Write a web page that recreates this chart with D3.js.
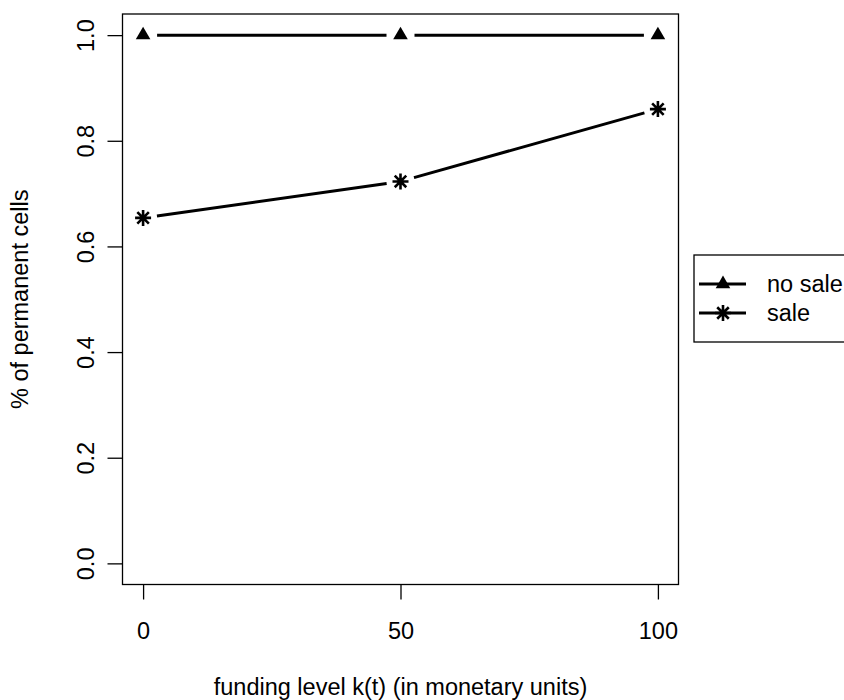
<!DOCTYPE html>
<html>
<head>
<meta charset="utf-8">
<script src="https://cdn.jsdelivr.net/npm/d3@7"></script>
<style>
  body { margin: 0; background: #fff; }
  svg { display: block; font-family: "Liberation Sans", Arial, Helvetica, sans-serif; }
</style>
</head>
<body>
<div id="chart"></div>
<script>
// 資料
const funding = [0, 50, 100];
const noSale = [1.0, 1.0, 1.0];
const sale = [0.654, 0.723, 0.860];
const yTicks = [0, 0.2, 0.4, 0.6, 0.8, 1.0];
const xTicks = [0, 50, 100];
const legendLabels = ["no sale", "sale"];

const width = 844, height = 700;
const box = { left: 122.5, right: 678.5, top: 14, bottom: 584.5 };
const fontSize = 23.5;

// R 的預設座標擴張 4%
const x = d3.scaleLinear().domain([-4, 104]).range([box.left, box.right]);
const y = d3.scaleLinear().domain([-0.04, 1.04]).range([box.bottom, box.top]);

const svg = d3.select("#chart").append("svg")
  .attr("width", width).attr("height", height);

// 外框
svg.append("rect")
  .attr("x", box.left).attr("y", box.top)
  .attr("width", box.right - box.left).attr("height", box.bottom - box.top)
  .attr("fill", "none").attr("stroke", "#000").attr("stroke-width", 1.3);

// x 軸
const xAxis = svg.append("g")
  .attr("transform", `translate(0,${box.bottom})`)
  .call(d3.axisBottom(x).tickValues(xTicks).tickSize(15).tickFormat(d3.format("d")));
xAxis.select(".domain").remove();
xAxis.selectAll("line").attr("stroke-width", 1.3);
xAxis.selectAll("text")
  .attr("font-size", fontSize).attr("font-family", null).attr("fill", "#000")
  .attr("y", 639 - box.bottom).attr("dy", null);

// y 軸，標籤旋轉 (las=0)
const yAxis = svg.append("g")
  .attr("transform", `translate(${box.left},0)`)
  .call(d3.axisLeft(y).tickValues(yTicks).tickSize(15).tickFormat(d3.format(".1f")));
yAxis.select(".domain").remove();
yAxis.selectAll("line").attr("stroke-width", 1.3);
yAxis.selectAll("text")
  .attr("font-size", fontSize).attr("font-family", null).attr("fill", "#000")
  .attr("x", null).attr("dy", null)
  .attr("text-anchor", "middle")
  .attr("transform", "translate(-29,0) rotate(-90)");

// 軸標題
svg.append("text")
  .attr("x", (box.left + box.right) / 2).attr("y", 695)
  .attr("text-anchor", "middle").attr("font-size", fontSize)
  .text("funding level k(t) (in monetary units)");

svg.append("text")
  .attr("transform", `translate(28,${(box.top + box.bottom) / 2}) rotate(-90)`)
  .attr("text-anchor", "middle").attr("font-size", fontSize)
  .text("% of permanent cells");

// type="b"：線段在點旁留空
const gap = 14;
function drawLines(values) {
  const pts = funding.map((f, i) => [x(f), y(values[i])]);
  const segs = d3.pairs(pts).map(([a, b]) => {
    const dx = b[0] - a[0], dy = b[1] - a[1];
    const len = Math.hypot(dx, dy);
    const ux = dx / len, uy = dy / len;
    return [a[0] + ux * gap, a[1] + uy * gap, b[0] - ux * gap, b[1] - uy * gap];
  });
  svg.append("g").selectAll("line").data(segs).join("line")
    .attr("x1", d => d[0]).attr("y1", d => d[1])
    .attr("x2", d => d[2]).attr("y2", d => d[3])
    .attr("stroke", "#000").attr("stroke-width", 3);
  return pts;
}

const triangle = "M0,-8.5L7.3,4.2L-7.3,4.2Z";
function drawTriangle(g, cx, cy) {
  g.append("path").attr("d", triangle)
    .attr("transform", `translate(${cx},${cy})`).attr("fill", "#000");
}
function drawStar(g, cx, cy) {
  const r = 8, d = r * 0.72;
  g.append("path")
    .attr("d", `M${-r},0H${r}M0,${-r}V${r}M${-d},${-d}L${d},${d}M${-d},${d}L${d},${-d}`)
    .attr("transform", `translate(${cx},${cy})`)
    .attr("stroke", "#000").attr("stroke-width", 2.6).attr("fill", "none");
}

const ptsNo = drawLines(noSale);
const ptsSale = drawLines(sale);
const marks = svg.append("g");
ptsNo.forEach(p => drawTriangle(marks, p[0], p[1]));
ptsSale.forEach(p => drawStar(marks, p[0], p[1]));

// 圖例
const legend = svg.append("g");
legend.append("rect")
  .attr("x", 694).attr("y", 255).attr("width", 200).attr("height", 87)
  .attr("fill", "#fff").attr("stroke", "#000").attr("stroke-width", 1.3);
const legY = [284, 313];
legendLabels.forEach((lab, i) => {
  legend.append("line")
    .attr("x1", 699).attr("x2", 746).attr("y1", legY[i]).attr("y2", legY[i])
    .attr("stroke", "#000").attr("stroke-width", 3);
  if (i === 0) drawTriangle(legend, 723, legY[i]); else drawStar(legend, 723, legY[i]);
  legend.append("text")
    .attr("x", 767).attr("y", legY[i]).attr("dy", "0.35em")
    .attr("font-size", fontSize).text(lab);
});
</script>
</body>
</html>
